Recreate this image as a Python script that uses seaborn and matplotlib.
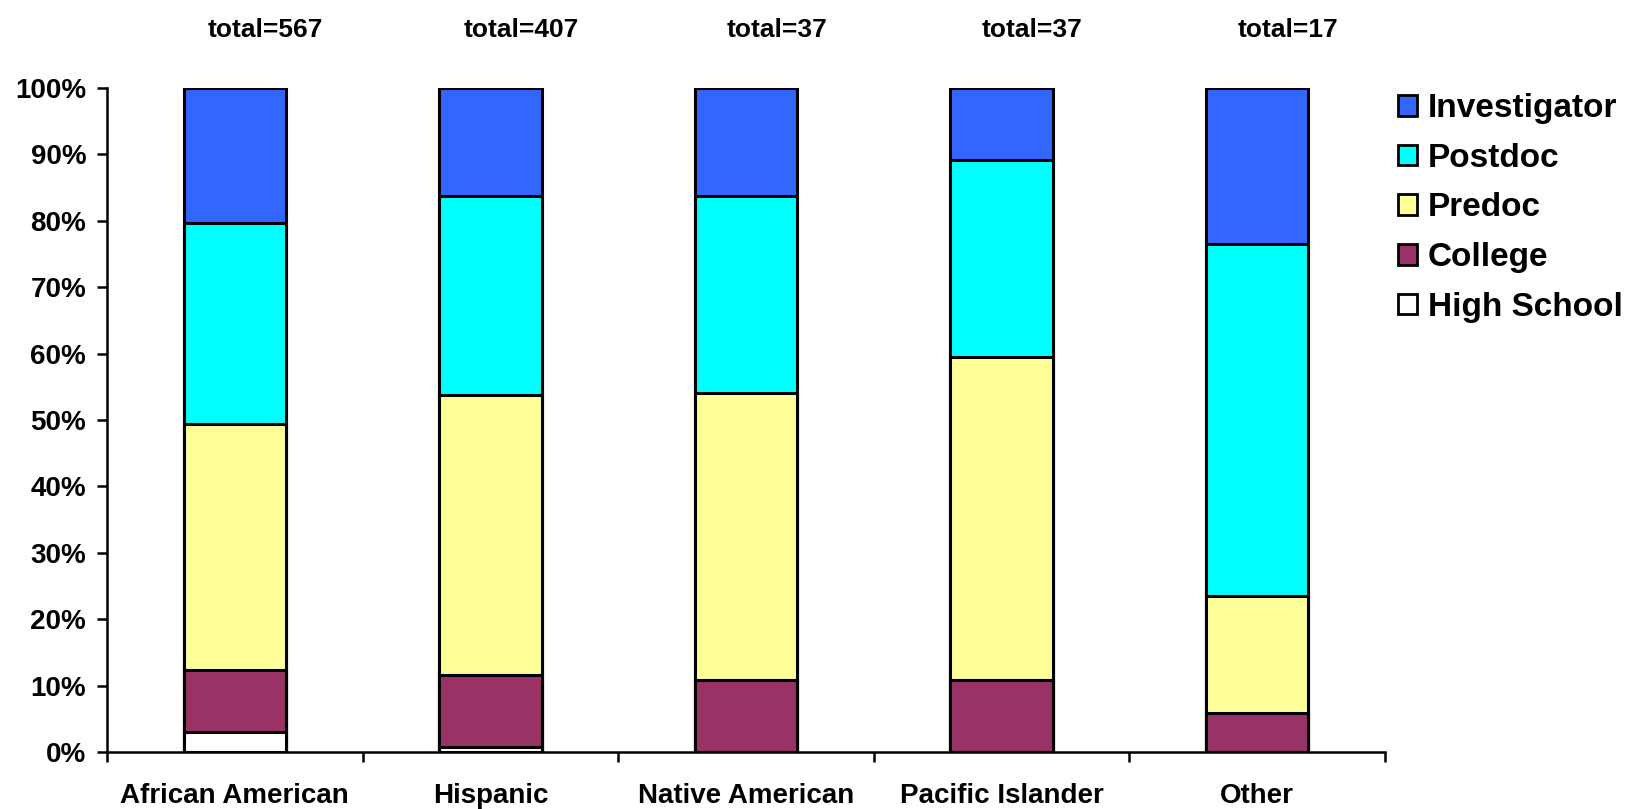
import numpy as np
import pandas as pd
import matplotlib
matplotlib.use("Agg")
import matplotlib.pyplot as plt
import seaborn as sns
from matplotlib.patches import Patch

# -------- data (counts per group) --------
GROUPS = ["African American", "Hispanic", "Native American", "Pacific Islander", "Other"]
HIGH_SCHOOL = [17, 3, 0, 0, 0]
COLLEGE = [53, 44, 4, 4, 1]
PREDOC = [210, 172, 16, 18, 3]
POSTDOC = [172, 122, 11, 11, 9]
INVESTIGATOR = [115, 66, 6, 4, 4]
TOTALS = [567, 407, 37, 37, 17]

LEVELS = ["High School", "College", "Predoc", "Postdoc", "Investigator"]
COLORS = {"High School": "#FFFFFF", "College": "#993366", "Predoc": "#FFFF99",
          "Postdoc": "#00FFFF", "Investigator": "#3366FF"}

sns.set_style("white")
plt.rcParams["font.family"] = ["Liberation Sans", "DejaVu Sans"]
plt.rcParams["font.weight"] = "bold"
plt.rcParams["text.color"] = "black"
plt.rcParams["xtick.color"] = "black"
plt.rcParams["ytick.color"] = "black"

counts = pd.DataFrame({"High School": HIGH_SCHOOL, "College": COLLEGE, "Predoc": PREDOC,
                       "Postdoc": POSTDOC, "Investigator": INVESTIGATOR}, index=GROUPS)
pct = counts.div(counts.sum(axis=1), axis=0) * 100
cum = pct.cumsum(axis=1)

fig = plt.figure(figsize=(16.27, 8.09), dpi=100)
ax = fig.add_axes([0.06577, 0.07046, 0.78550, 0.82077])

# stacked: draw cumulative tops from the largest down
for level in LEVELS[::-1]:
    sns.barplot(x=GROUPS, y=cum[level].values, color=COLORS[level], width=0.4,
                edgecolor="black", linewidth=2.2, saturation=1, ax=ax)

ax.set_ylim(0, 100)
ax.set_xlim(-0.5, len(GROUPS) - 0.5)
ax.set_yticks(np.arange(0, 101, 10))
ax.set_yticklabels([f"{v}%" for v in range(0, 101, 10)], fontsize=20, fontweight="bold")
ax.tick_params(axis="y", direction="out", length=7, width=1.8, pad=8, left=True)

# ticks at category boundaries, labels at category centres
ax.set_xticks(np.arange(-0.5, len(GROUPS), 1.0))
ax.set_xticklabels([])
ax.tick_params(axis="x", which="major", direction="out", length=7, width=1.8, bottom=True)
ax.set_xticks(np.arange(len(GROUPS)), minor=True)
ax.set_xticklabels(GROUPS, minor=True, fontsize=20, fontweight="bold")
ax.tick_params(axis="x", which="minor", length=0, pad=22)

ax.set_xlabel("")
ax.set_ylabel("")
sns.despine(ax=ax)
for side in ["left", "bottom"]:
    ax.spines[side].set_linewidth(1.8)
    ax.spines[side].set_color("black")

for i, t in enumerate(TOTALS):
    ax.text(i + 0.12, 1.088, f"total={t}", transform=ax.get_xaxis_transform(),
            ha="center", va="center", fontsize=19, fontweight="bold")

handles = [Patch(facecolor=COLORS[l], edgecolor="black", linewidth=2.0, label=l)
           for l in LEVELS[::-1]]
fig.legend(handles=handles, loc="upper left", bbox_to_anchor=(0.8592, 0.885),
           frameon=False, borderpad=0, borderaxespad=0,
           handlelength=0.57, handleheight=0.57, handletextpad=0.33, labelspacing=0.56,
           prop={"size": 24, "weight": "bold"})

fig.savefig("out.png", dpi=100)
